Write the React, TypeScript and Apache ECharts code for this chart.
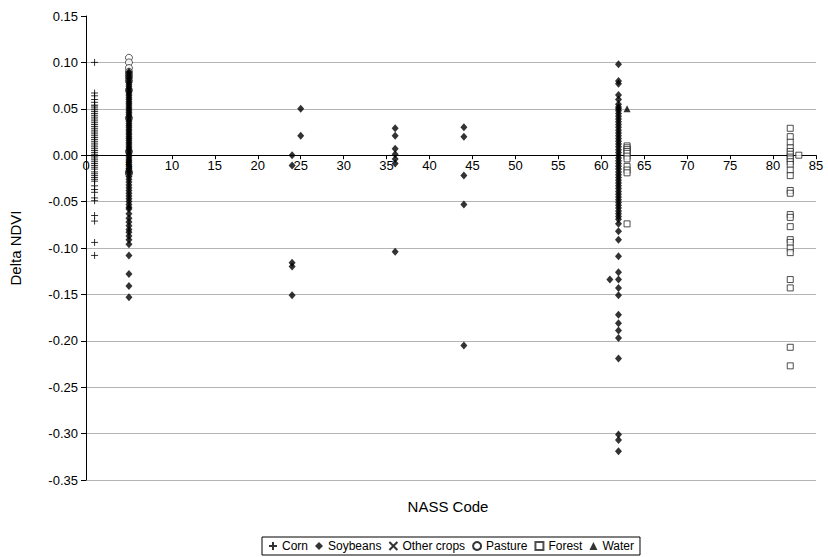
import React, { useEffect, useRef } from 'react';
import * as echarts from 'echarts';

const FONT = 'Liberation Sans, Arial, sans-serif';

// Axis settings
const X_MIN = 0;
const X_MAX = 85;
const X_INTERVAL = 5;
const Y_MIN = -0.35;
const Y_MAX = 0.15;
const Y_INTERVAL = 0.05;

// Series names
const SERIES_NAMES = ['Corn', 'Soybeans', 'Other crops', 'Pasture', 'Forest', 'Water'];

// Corn (NASS code 1)
const cornAt1 = [
  0.100, 0.067, 0.064, 0.060, 0.057, 0.054, 0.053, 0.051, 0.049, 0.047, 0.045, 0.043,
  0.041, 0.039, 0.037, 0.035, 0.033, 0.031, 0.029, 0.027, 0.025, 0.023, 0.021, 0.019,
  0.017, 0.015, 0.013, 0.011, 0.009, 0.007, 0.005, 0.003, 0.001, -0.001, -0.003, -0.005,
  -0.007, -0.009, -0.011, -0.013, -0.015, -0.018, -0.020, -0.022, -0.024, -0.026, -0.028,
  -0.033, -0.037, -0.040, -0.046, -0.049, -0.065, -0.071, -0.094, -0.108,
];

// Soybeans (diamonds) by NASS code
const soyAt5 = [
  0.090, 0.088, 0.086, 0.084, 0.082, 0.080, 0.078, 0.076, 0.074, 0.072, 0.070, 0.068,
  0.066, 0.064, 0.062, 0.060, 0.058, 0.056, 0.054, 0.052, 0.050, 0.048, 0.046, 0.044,
  0.042, 0.040, 0.038, 0.036, 0.034, 0.032, 0.030, 0.028, 0.026, 0.024, 0.022, 0.020,
  0.018, 0.016, 0.014, 0.012, 0.010, 0.008, 0.006, 0.004, 0.002, 0.000, -0.002, -0.004,
  -0.006, -0.008, -0.010, -0.012, -0.014, -0.016, -0.018, -0.020, -0.023, -0.026, -0.029,
  -0.032, -0.035, -0.038, -0.041, -0.044, -0.047, -0.050, -0.053, -0.056, -0.058, -0.063,
  -0.068, -0.072, -0.076, -0.080, -0.083, -0.087, -0.091, -0.096, -0.108, -0.128, -0.141, -0.153,
];
const soyAt24 = [0.000, -0.011, -0.116, -0.120, -0.151];
const soyAt25 = [0.050, 0.021];
const soyAt36 = [0.029, 0.021, 0.007, 0.001, -0.004, -0.009, -0.104];
const soyAt44 = [0.030, 0.020, -0.022, -0.053, -0.205];
const soyAt61 = [-0.134];
const soyAt62 = [
  0.098, 0.080, 0.077, 0.065, 0.060, 0.055, 0.052, 0.050, 0.048, 0.045, 0.042, 0.039,
  0.036, 0.033, 0.030, 0.027, 0.024, 0.021, 0.018, 0.015, 0.012, 0.009, 0.006, 0.003,
  0.000, -0.003, -0.006, -0.009, -0.012, -0.015, -0.018, -0.021, -0.024, -0.027, -0.030,
  -0.033, -0.036, -0.039, -0.042, -0.045, -0.048, -0.051, -0.054, -0.057, -0.060, -0.063,
  -0.066, -0.069, -0.074, -0.082, -0.091, -0.109, -0.126, -0.134, -0.143, -0.151, -0.172,
  -0.181, -0.189, -0.197, -0.219, -0.301, -0.307, -0.319,
];

// Other crops: none visible
const otherCrops: number[][] = [];

// Pasture (NASS code 5)
const pastureAt5 = [0.105, 0.100, 0.094, 0.090, 0.087, 0.084, 0.080, 0.070, 0.040, 0.004, -0.018, -0.020];

// Forest by NASS code
const forestAt63 = [0.010, 0.008, 0.006, 0.004, 0.002, -0.001, -0.004, -0.012, -0.016, -0.019, -0.074];
const forestAt82 = [
  0.029, 0.020, 0.014, 0.008, 0.004, 0.001, -0.002, -0.004, -0.007, -0.010, -0.016, -0.022,
  -0.038, -0.041, -0.064, -0.067, -0.077, -0.091, -0.094, -0.100, -0.105, -0.134, -0.143,
  -0.207, -0.227,
];
const forestAt83 = [0.000];

// Water
const waterAt63 = [0.050];

const at = (code: number, vals: number[]) => vals.map((v) => [code, v]);

const cornData = at(1, cornAt1);
const soyData = [
  ...at(5, soyAt5),
  ...at(24, soyAt24),
  ...at(25, soyAt25),
  ...at(36, soyAt36),
  ...at(44, soyAt44),
  ...at(61, soyAt61),
  ...at(62, soyAt62),
];
const pastureData = at(5, pastureAt5);
const forestData = [...at(63, forestAt63), ...at(82, forestAt82), ...at(83, forestAt83)];
const waterData = at(63, waterAt63);

const PLUS = 'path://M0 4 L8 4 M4 0 L4 8';
const CROSS = 'path://M0 0 L8 8 M8 0 L0 8';

const GRID_TOP = 16;
const GRID_BOTTOM = 77;
const CHART_H = 557;

export default function App() {
  const ref = useRef<HTMLDivElement>(null);
  useEffect(() => {
    const chart = echarts.init(ref.current!, null, { renderer: 'svg' });
    const gridColors = [
      '#b4b4b4', '#b4b4b4', '#b4b4b4', '#b4b4b4', '#b4b4b4', '#b4b4b4', '#b4b4b4',
      '#000000', '#b4b4b4', '#b4b4b4', 'rgba(0,0,0,0)',
    ];
    const plotH = CHART_H - GRID_TOP - GRID_BOTTOM;
    const zeroFromBottom = ((0 - Y_MIN) / (Y_MAX - Y_MIN)) * plotH;
    chart.setOption({
      animation: false,
      backgroundColor: '#fff',
      textStyle: { fontFamily: FONT },
      grid: { left: 86, right: 12, top: GRID_TOP, bottom: GRID_BOTTOM, containLabel: false },
      xAxis: {
        type: 'value',
        min: X_MIN,
        max: X_MAX,
        interval: X_INTERVAL,
        offset: -zeroFromBottom,
        axisLine: { onZero: false, lineStyle: { color: '#000', width: 1 } },
        axisTick: { show: true, length: 4, lineStyle: { color: '#000' } },
        axisLabel: { color: '#000', fontSize: 13, fontFamily: FONT, margin: 4 },
        splitLine: { show: false },
      },
      yAxis: {
        type: 'value',
        min: Y_MIN,
        max: Y_MAX,
        interval: Y_INTERVAL,
        axisLine: { show: true, lineStyle: { color: '#000', width: 1 } },
        axisTick: { show: true, length: 5, lineStyle: { color: '#000' } },
        axisLabel: {
          color: '#000',
          fontSize: 13,
          fontFamily: FONT,
          margin: 8,
          formatter: (v: number) => v.toFixed(2),
        },
        splitLine: { show: true, lineStyle: { color: gridColors, width: 1 } },
      },
      legend: {
        left: 262,
        top: 537,
        itemWidth: 8,
        itemHeight: 8,
        itemGap: 7,
        borderColor: '#000',
        borderWidth: 1,
        padding: [3, 6, 3, 6],
        textStyle: { color: '#000', fontSize: 12, fontFamily: FONT },
        data: SERIES_NAMES,
      },
      graphic: [
        {
          type: 'text',
          x: 448,
          y: 506,
          style: {
            text: 'NASS Code',
            font: '15px Liberation Sans, Arial, sans-serif',
            fill: '#000',
            textAlign: 'center',
            textVerticalAlign: 'middle',
          },
        },
        {
          type: 'text',
          x: 15,
          y: 248,
          rotation: Math.PI / 2,
          style: {
            text: 'Delta NDVI',
            font: '15px Liberation Sans, Arial, sans-serif',
            fill: '#000',
            textAlign: 'center',
            textVerticalAlign: 'middle',
          },
        },
      ],
      series: [
        {
          name: 'Corn',
          type: 'scatter',
          z: 3,
          symbol: PLUS,
          symbolSize: 7,
          itemStyle: { color: 'rgba(0,0,0,0)', borderColor: '#000', borderWidth: 1 },
          data: cornData,
        },
        {
          name: 'Soybeans',
          type: 'scatter',
          z: 3,
          symbol: 'diamond',
          symbolSize: [7, 8],
          itemStyle: { color: '#000' },
          data: soyData,
        },
        {
          name: 'Other crops',
          type: 'scatter',
          z: 3,
          symbol: CROSS,
          symbolSize: 6,
          itemStyle: { color: 'rgba(0,0,0,0)', borderColor: '#000', borderWidth: 1 },
          data: otherCrops,
        },
        {
          name: 'Pasture',
          type: 'scatter',
          z: 2,
          symbol: 'circle',
          symbolSize: 7,
          itemStyle: { color: '#fff', borderColor: '#000', borderWidth: 0.8 },
          data: pastureData,
        },
        {
          name: 'Forest',
          type: 'scatter',
          z: 3,
          symbol: 'rect',
          symbolSize: 6,
          itemStyle: { color: '#fff', borderColor: '#222', borderWidth: 1 },
          data: forestData,
        },
        {
          name: 'Water',
          type: 'scatter',
          z: 3,
          symbol: 'triangle',
          symbolSize: 7,
          itemStyle: { color: '#000' },
          data: waterData,
        },
      ],
    });
    return () => chart.dispose();
  }, []);
  return (
    <div
      ref={ref}
      style={{ position: 'absolute', left: 0, top: 0, width: 828, height: 557 }}
    />
  );
}
